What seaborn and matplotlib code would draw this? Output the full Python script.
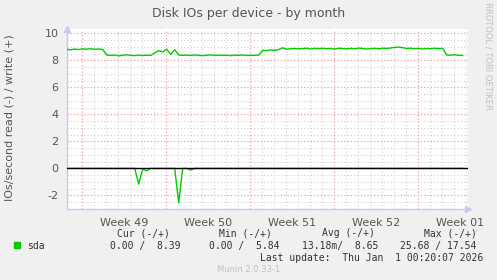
import numpy as np
import pandas as pd
import matplotlib
matplotlib.use("Agg")
import matplotlib.pyplot as plt
import seaborn as sns

# ---- data (one sample every 1/3 day) ----
write_vals = [
    8.82, 8.78, 8.84, 8.80, 8.85, 8.83, 8.86, 8.82, 8.84, 8.80,
    8.40, 8.36, 8.40, 8.33, 8.38, 8.41, 8.37, 8.35, 8.39, 8.36,
    8.38, 8.37, 8.55, 8.72, 8.62, 8.82, 8.45, 8.78, 8.40, 8.37,
    8.39, 8.36, 8.40, 8.37, 8.35, 8.38, 8.41, 8.36, 8.39, 8.37,
    8.38, 8.35, 8.39, 8.37, 8.40, 8.36, 8.38, 8.37, 8.39, 8.74,
    8.72, 8.78, 8.74, 8.80, 8.93, 8.82, 8.86, 8.88, 8.85, 8.87,
    8.90, 8.84, 8.89, 8.87, 8.90, 8.86, 8.88, 8.84, 8.90, 8.87,
    8.85, 8.89, 8.86, 8.91, 8.88, 8.84, 8.87, 8.89, 8.86, 8.90,
    8.88, 8.92, 8.96, 8.98, 8.94, 8.88, 8.90, 8.86, 8.89, 8.84,
    8.88, 8.86, 8.90, 8.87, 8.89, 8.40, 8.38, 8.42, 8.37, 8.36,
]
read_vals = [0.0] * 100
read_vals[18] = -1.16
read_vals[19] = -0.05
read_vals[20] = -0.18
read_vals[28] = -2.55
read_vals[31] = -0.13
days = [i / 3 for i in range(100)]

week_labels = ["Week 49", "Week 50", "Week 51", "Week 52", "Week 01"]
col_headers = ["Cur (-/+)", "Min (-/+)", "Avg (-/+)", "Max (-/+)"]
col_values = ["0.00 /  8.39", "0.00 /  5.84", "13.18m/  8.65", "25.68 / 17.54"]
series_name = "sda"

df = pd.DataFrame({"day": days, "write": write_vals, "read": read_vals})

W, H = 497, 280
fig = plt.figure(figsize=(W / 100, H / 100), dpi=100, facecolor="#f0f0f0")
ax_l, ax_r = 66.7, 467.5
ax_t, ax_b = 29.3, 208.6
ax = fig.add_axes([ax_l / W, 1 - ax_b / H, (ax_r - ax_l) / W, (ax_b - ax_t) / H])
ax.set_facecolor("white")

xmax = 33.4
ax.set_xlim(0, xmax)
ax.set_ylim(-2.98, 10.3)

# grid
for d in np.arange(1.25, xmax, 1.0):
    ax.axvline(d, color="#d0d0d0", lw=0.8, ls=(0, (1, 2)), zorder=0)
for v in np.arange(-2.5, 10.3, 0.5):
    ax.axhline(v, color="#d0d0d0", lw=0.8, ls=(0, (1, 2)), zorder=0)
for d in np.arange(1.25, xmax, 7.0):
    ax.axvline(d, color="#f4a0a0", lw=0.8, ls=(0, (1, 2)), zorder=0.5)
for v in range(-2, 11, 2):
    ax.axhline(v, color="#f4a0a0", lw=0.8, ls=(0, (1, 2)), zorder=0.5)

green = "#00cc00"
sns.lineplot(data=df, x="day", y="write", ax=ax, color=green, lw=1.0, zorder=3)
sns.lineplot(data=df, x="day", y="read", ax=ax, color=green, lw=1.0, zorder=3)
ax.axhline(0, color="black", lw=1.0, zorder=4)

# spines
for s in ["top", "right"]:
    ax.spines[s].set_visible(False)
for s in ["left", "bottom"]:
    ax.spines[s].set_color("#c8c8f0")
    ax.spines[s].set_linewidth(1.0)
ax.plot([1], [0], marker=">", color="#c8c8f0", ms=4, transform=ax.transAxes, clip_on=False)
ax.plot([0], [1], marker="^", color="#c8c8f0", ms=4, transform=ax.transAxes, clip_on=False)

txt = "#555555"
ax.set_yticks(range(-2, 11, 2))
ax.set_yticklabels([str(v) for v in range(-2, 11, 2)], fontsize=8, color=txt)
ax.set_xticks([4.75 + 7 * k for k in range(len(week_labels))])
ax.set_xticklabels(week_labels, fontsize=8, color=txt)
ax.tick_params(axis="both", length=0, pad=6)
ax.tick_params(axis="x", pad=7)
ax.set_xlabel("")
ax.set_ylabel("")

fig.text(248.7 / W, 1 - 13 / H, "Disk IOs per device - by month", ha="center", va="center",
         fontsize=9, color=txt)
fig.text(10 / W, 1 - 118 / H, "IOs/second read (-) / write (+)", ha="center", va="center",
         rotation=90, fontsize=8, color=txt)
fig.text(488 / W, 1 - 56 / H, "RRDTOOL / TOBI OETIKER", ha="center", va="center",
         rotation=270, fontsize=6, color="#c0c0c0")

mono = "DejaVu Sans Mono"
fig.patches.append(plt.Rectangle((14 / W, 1 - 248 / H), 6 / W, 6 / H, color=green,
                                 transform=fig.transFigure, figure=fig))
fig.text(27 / W, 1 - 245.7 / H, series_name, ha="left", va="center", fontsize=7,
         family=mono, color="#333333")
hdr_x = [143, 245, 348, 450]
val_right = [180, 279.3, 378.3, 476.7]
for hx, h, vr, v in zip(hdr_x, col_headers, val_right, col_values):
    fig.text(hx / W, 1 - 233.3 / H, h, ha="center", va="center", fontsize=7,
             family=mono, color="#333333")
    fig.text(vr / W, 1 - 245.7 / H, v, ha="right", va="center", fontsize=7,
             family=mono, color="#333333")
fig.text(483.3 / W, 1 - 257.7 / H, "Last update:  Thu Jan  1 00:20:07 2026", ha="right",
         va="center", fontsize=7, family=mono, color="#333333")
fig.text(248.5 / W, 1 - 269 / H, "Munin 2.0.33-1", ha="center", va="center", fontsize=6,
         color="#c0c0c0")

fig.savefig("out.png", dpi=100, facecolor=fig.get_facecolor())
